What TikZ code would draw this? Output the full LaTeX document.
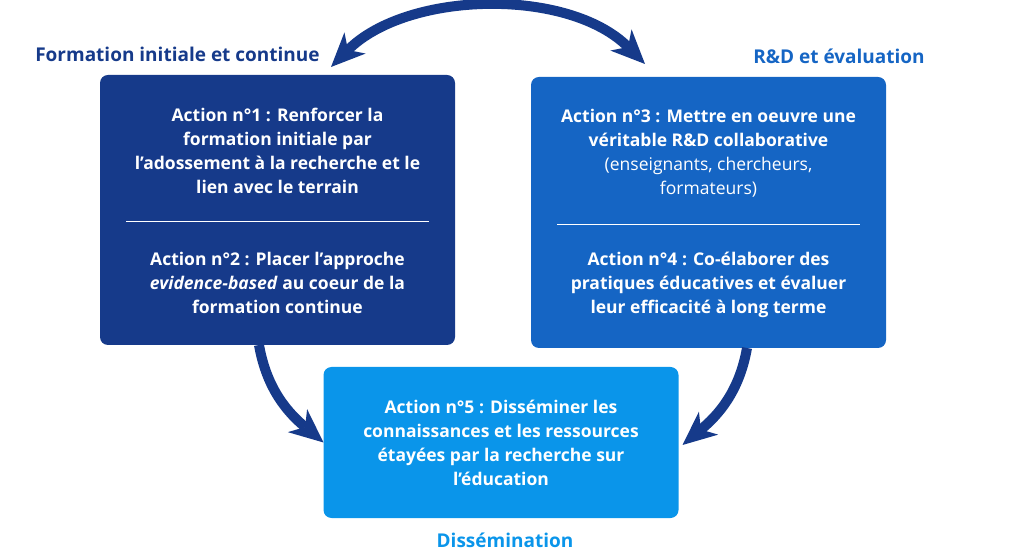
\documentclass[tikz,border=0pt]{standalone}
\usepackage{fontspec}
\setmainfont{Open Sans}
\usetikzlibrary{arrows.meta}
\definecolor{bleufonce}{RGB}{22,58,138}
\definecolor{bleumoyen}{RGB}{21,101,196}
\definecolor{bleuclair}{RGB}{10,149,234}

\begin{document}
\begin{tikzpicture}[x=1pt,y=1pt,
  boite/.style={rounded corners=8pt, minimum width=355pt, anchor=center},
  texte/.style={text=white, align=center, font=\bfseries\fontsize{17.5}{24}\selectfont},
  titre/.style={anchor=base, font=\bfseries\fontsize{19}{24}\selectfont},
  fleche/.style={line width=10pt, draw=bleufonce}]
\useasboundingbox (0,0) rectangle (1016,551);

\path [every node/.style={inner sep=0pt, outer sep=0pt}]
  node[boite, fill=bleufonce, minimum height=270pt] (FIC) at (277.5,341) {}
  node[boite, fill=bleumoyen, minimum height=271pt] (RDE) at (708.5,338.5) {}
  node[boite, fill=bleuclair, minimum height=151pt] (DIS) at (501,108.5) {}
  % titres
  node[titre, text=bleufonce] (titreFIC) at (177.5,489) {Formation initiale et continue}
  node[titre, text=bleumoyen] (titreRDE) at (839,487) {R\&D et évaluation}
  node[titre, text=bleuclair] (titreDIS) at (505,4) {Dissémination}
  % actions
  node[texte] (action1) at (277.5,400) {Action n°1 : Renforcer la\\formation initiale par\\l’adossement à la recherche et le\\lien avec le terrain}
  node[texte] (action2) at (277.5,268) {Action n°2 : Placer l’approche\\\textit{evidence-based} au coeur de la\\formation continue}
  node[texte] (action3) at (708.5,397.5) {Action n°3 : Mettre en oeuvre une\\véritable R\&D collaborative\\\mdseries (enseignants, chercheurs,\\\mdseries formateurs)}
  node[texte] (action4) at (708.5,266) {Action n°4 : Co-élaborer des\\pratiques éducatives et évaluer\\leur efficacité à long terme}
  node[texte] (action5) at (501,108) {Action n°5 : Disséminer les\\connaissances et les ressources\\étayées par la recherche sur\\l’éducation};

% separateurs
\draw[white, line width=1pt] ([xshift=26pt,yshift=-12pt]FIC.west) -- ([xshift=-26pt,yshift=-12pt]FIC.east);
\draw[white, line width=1pt] ([xshift=26pt,yshift=-12.5pt]RDE.west) -- ([xshift=-26pt,yshift=-12.5pt]RDE.east);

\begin{scope}[>={Stealth[length=34pt,width=30pt,inset=10pt,line width=0pt]}]
	% Fleche haut
	\draw[fleche, <->] ([xshift=-124pt,yshift=8pt]FIC.north east) to [out=45,in=135,looseness=0.88] ([xshift=-63.5pt,yshift=13pt]RDE.north) ;
	% Fleches bas
	\draw[fleche, ->] ([xshift=-18.5pt]FIC.south) to [out=-80,in=140] (DIS.west) ;
	\draw[fleche, ->] ([xshift=38.5pt]RDE.south) to [out=-100,in=40] ([xshift=4pt,yshift=-2.5pt]DIS.east) ;
\end{scope}

\end{tikzpicture}
\end{document}
